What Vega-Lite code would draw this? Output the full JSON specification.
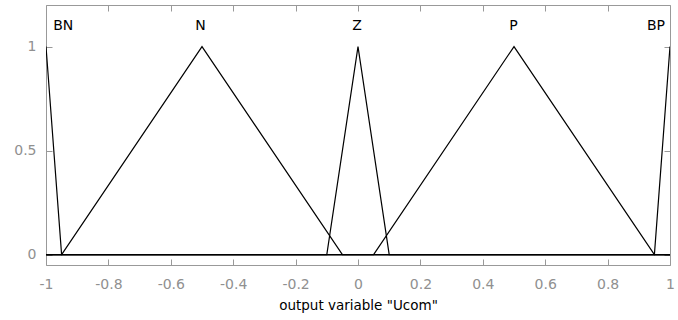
{
  "$schema": "https://vega.github.io/schema/vega-lite/v6.json",
  "autosize": {"type": "none"},
  "width": 624,
  "height": 260,
  "padding": {"left": 46, "top": 5, "right": 8, "bottom": 55},
  "background": "white",
  "config": {
    "view": {"stroke": "#999999", "strokeWidth": 1},
    "axis": {
      "grid": false,
      "domain": false,
      "labelFont": "DejaVu Sans",
      "labelFontSize": 14,
      "labelColor": "#909090",
      "tickColor": "#999999",
      "titleFont": "DejaVu Sans",
      "titleFontSize": 13.5,
      "titleColor": "#000000",
      "titleFontWeight": "normal"
    }
  },
  "datasets": {
    "mf": [
      {"name": "BN", "x": -1.0, "y": 1.0},
      {"name": "BN", "x": -0.95, "y": 0.0},
      {"name": "BN", "x": 1.0, "y": 0.0},
      {"name": "N", "x": -1.0, "y": 0.0},
      {"name": "N", "x": -0.95, "y": 0.0},
      {"name": "N", "x": -0.5, "y": 1.0},
      {"name": "N", "x": -0.05, "y": 0.0},
      {"name": "N", "x": 1.0, "y": 0.0},
      {"name": "Z", "x": -1.0, "y": 0.0},
      {"name": "Z", "x": -0.1, "y": 0.0},
      {"name": "Z", "x": 0.0, "y": 1.0},
      {"name": "Z", "x": 0.1, "y": 0.0},
      {"name": "Z", "x": 1.0, "y": 0.0},
      {"name": "P", "x": -1.0, "y": 0.0},
      {"name": "P", "x": 0.05, "y": 0.0},
      {"name": "P", "x": 0.5, "y": 1.0},
      {"name": "P", "x": 0.95, "y": 0.0},
      {"name": "P", "x": 1.0, "y": 0.0},
      {"name": "BP", "x": -1.0, "y": 0.0},
      {"name": "BP", "x": 0.95, "y": 0.0},
      {"name": "BP", "x": 1.0, "y": 1.0}
    ],
    "labels": [
      {"name": "BN", "x": -0.945, "y": 1.1},
      {"name": "N", "x": -0.505, "y": 1.1},
      {"name": "Z", "x": -0.003, "y": 1.1},
      {"name": "P", "x": 0.498, "y": 1.1},
      {"name": "BP", "x": 0.955, "y": 1.1}
    ]
  },
  "resolve": {"axis": {"x": "independent", "y": "independent"}},
  "layer": [
    {
      "data": {"name": "mf"},
      "mark": {"type": "line", "color": "#000000", "strokeWidth": 1.2, "clip": true},
      "encoding": {
        "x": {
          "field": "x", "type": "quantitative",
          "scale": {"domain": [-1, 1], "nice": false, "zero": false},
          "axis": {
            "orient": "bottom",
            "values": [-1, -0.8, -0.6, -0.4, -0.2, 0, 0.2, 0.4, 0.6, 0.8, 1],
            "labelExpr": "'' + datum.value",
            "tickSize": -6,
            "labelPadding": 18,
            "labelFlush": false,
            "labelOverlap": false,
            "title": "output variable \"Ucom\"",
            "titlePadding": 7
          }
        },
        "y": {
          "field": "y", "type": "quantitative",
          "scale": {"domain": [-0.05, 1.2], "nice": false, "zero": false},
          "axis": {
            "orient": "left",
            "values": [0, 0.5, 1],
            "labelExpr": "'' + datum.value",
            "tickSize": -6,
            "labelPadding": 16,
            "labelFlush": false,
            "labelOverlap": false,
            "title": null
          }
        },
        "detail": {"field": "name", "type": "nominal"},
        "order": {"field": "x", "type": "quantitative"}
      }
    },
    {
      "data": {"name": "labels"},
      "mark": {"type": "text", "font": "DejaVu Sans", "fontSize": 14, "color": "#000000", "align": "center", "baseline": "middle"},
      "encoding": {
        "x": {
          "field": "x", "type": "quantitative",
          "scale": {"domain": [-1, 1], "nice": false, "zero": false},
          "axis": {
            "orient": "top",
            "values": [-1, -0.8, -0.6, -0.4, -0.2, 0, 0.2, 0.4, 0.6, 0.8, 1],
            "tickSize": -6,
            "labels": false,
            "title": null
          }
        },
        "y": {
          "field": "y", "type": "quantitative",
          "scale": {"domain": [-0.05, 1.2], "nice": false, "zero": false},
          "axis": {
            "orient": "right",
            "values": [0, 0.5, 1],
            "tickSize": -6,
            "labels": false,
            "title": null
          }
        },
        "text": {"field": "name", "type": "nominal"}
      }
    }
  ]
}
